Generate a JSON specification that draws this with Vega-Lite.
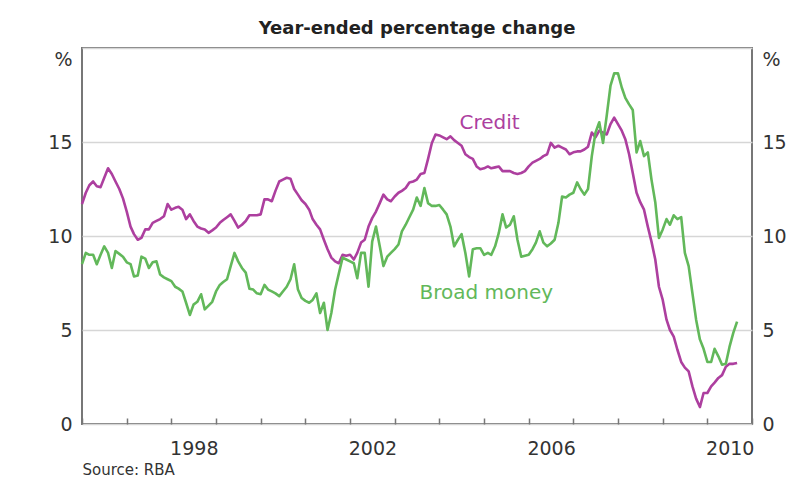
{
  "$schema": "https://vega.github.io/schema/vega-lite/v6.json",
  "width": 670,
  "height": 376,
  "autosize": "none",
  "padding": {"left": 82, "top": 48, "right": 56, "bottom": 70},
  "background": "white",
  "title": {
    "text": "Year-ended percentage change",
    "anchor": "middle",
    "frame": "group",
    "font": "DejaVu Sans",
    "fontSize": 18,
    "fontWeight": "bold",
    "color": "#222222",
    "baseline": "alphabetic",
    "offset": 13,
    "dy": 17
  },
  "config": {
    "view": {"stroke": "#777777", "strokeWidth": 2},
    "font": "DejaVu Sans"
  },
  "datasets": {
    "series": [
      {"d": "1996-01", "Credit": 11.7, "Broad money": 8.5},
      {"d": "1996-02", "Credit": 12.3, "Broad money": 9.1},
      {"d": "1996-03", "Credit": 12.7, "Broad money": 9.0},
      {"d": "1996-04", "Credit": 12.9, "Broad money": 9.0},
      {"d": "1996-05", "Credit": 12.65, "Broad money": 8.5},
      {"d": "1996-06", "Credit": 12.6, "Broad money": 9.0},
      {"d": "1996-07", "Credit": 13.1, "Broad money": 9.45},
      {"d": "1996-08", "Credit": 13.6, "Broad money": 9.1},
      {"d": "1996-09", "Credit": 13.3, "Broad money": 8.3},
      {"d": "1996-10", "Credit": 12.9, "Broad money": 9.2},
      {"d": "1996-11", "Credit": 12.5, "Broad money": 9.05},
      {"d": "1996-12", "Credit": 12.0, "Broad money": 8.9},
      {"d": "1997-01", "Credit": 11.3, "Broad money": 8.6},
      {"d": "1997-02", "Credit": 10.5, "Broad money": 8.5},
      {"d": "1997-03", "Credit": 10.1, "Broad money": 7.85},
      {"d": "1997-04", "Credit": 9.8, "Broad money": 7.9},
      {"d": "1997-05", "Credit": 9.9, "Broad money": 8.9},
      {"d": "1997-06", "Credit": 10.35, "Broad money": 8.8},
      {"d": "1997-07", "Credit": 10.35, "Broad money": 8.3},
      {"d": "1997-08", "Credit": 10.7, "Broad money": 8.6},
      {"d": "1997-09", "Credit": 10.8, "Broad money": 8.65},
      {"d": "1997-10", "Credit": 10.9, "Broad money": 7.95},
      {"d": "1997-11", "Credit": 11.05, "Broad money": 7.8},
      {"d": "1997-12", "Credit": 11.7, "Broad money": 7.7},
      {"d": "1998-01", "Credit": 11.4, "Broad money": 7.6},
      {"d": "1998-02", "Credit": 11.5, "Broad money": 7.3},
      {"d": "1998-03", "Credit": 11.55, "Broad money": 7.2},
      {"d": "1998-04", "Credit": 11.4, "Broad money": 7.05},
      {"d": "1998-05", "Credit": 10.9, "Broad money": 6.45},
      {"d": "1998-06", "Credit": 11.15, "Broad money": 5.8},
      {"d": "1998-07", "Credit": 10.8, "Broad money": 6.35},
      {"d": "1998-08", "Credit": 10.5, "Broad money": 6.5},
      {"d": "1998-09", "Credit": 10.4, "Broad money": 6.9},
      {"d": "1998-10", "Credit": 10.35, "Broad money": 6.1},
      {"d": "1998-11", "Credit": 10.17, "Broad money": 6.3},
      {"d": "1998-12", "Credit": 10.3, "Broad money": 6.5},
      {"d": "1999-01", "Credit": 10.45, "Broad money": 7.05},
      {"d": "1999-02", "Credit": 10.7, "Broad money": 7.4},
      {"d": "1999-03", "Credit": 10.85, "Broad money": 7.55},
      {"d": "1999-04", "Credit": 11.0, "Broad money": 7.7},
      {"d": "1999-05", "Credit": 11.15, "Broad money": 8.4},
      {"d": "1999-06", "Credit": 10.8, "Broad money": 9.1},
      {"d": "1999-07", "Credit": 10.45, "Broad money": 8.65},
      {"d": "1999-08", "Credit": 10.6, "Broad money": 8.3},
      {"d": "1999-09", "Credit": 10.8, "Broad money": 8.05},
      {"d": "1999-10", "Credit": 11.1, "Broad money": 7.2},
      {"d": "1999-11", "Credit": 11.1, "Broad money": 7.15},
      {"d": "1999-12", "Credit": 11.1, "Broad money": 6.95},
      {"d": "2000-01", "Credit": 11.15, "Broad money": 6.9},
      {"d": "2000-02", "Credit": 11.95, "Broad money": 7.4},
      {"d": "2000-03", "Credit": 11.95, "Broad money": 7.15},
      {"d": "2000-04", "Credit": 11.85, "Broad money": 7.05},
      {"d": "2000-05", "Credit": 12.4, "Broad money": 6.95},
      {"d": "2000-06", "Credit": 12.9, "Broad money": 6.8},
      {"d": "2000-07", "Credit": 13.0, "Broad money": 7.05},
      {"d": "2000-08", "Credit": 13.1, "Broad money": 7.3},
      {"d": "2000-09", "Credit": 13.05, "Broad money": 7.7},
      {"d": "2000-10", "Credit": 12.5, "Broad money": 8.5},
      {"d": "2000-11", "Credit": 12.2, "Broad money": 7.15},
      {"d": "2000-12", "Credit": 11.9, "Broad money": 6.7},
      {"d": "2001-01", "Credit": 11.7, "Broad money": 6.55},
      {"d": "2001-02", "Credit": 11.4, "Broad money": 6.45},
      {"d": "2001-03", "Credit": 10.9, "Broad money": 6.6},
      {"d": "2001-04", "Credit": 10.6, "Broad money": 6.95},
      {"d": "2001-05", "Credit": 10.35, "Broad money": 5.9},
      {"d": "2001-06", "Credit": 9.8, "Broad money": 6.45},
      {"d": "2001-07", "Credit": 9.3, "Broad money": 5.0},
      {"d": "2001-08", "Credit": 8.85, "Broad money": 5.9},
      {"d": "2001-09", "Credit": 8.65, "Broad money": 7.15},
      {"d": "2001-10", "Credit": 8.55, "Broad money": 8.0},
      {"d": "2001-11", "Credit": 9.0, "Broad money": 8.85},
      {"d": "2001-12", "Credit": 8.95, "Broad money": 8.75},
      {"d": "2002-01", "Credit": 9.0, "Broad money": 8.65},
      {"d": "2002-02", "Credit": 8.75, "Broad money": 8.55},
      {"d": "2002-03", "Credit": 9.1, "Broad money": 7.75},
      {"d": "2002-04", "Credit": 9.65, "Broad money": 9.1},
      {"d": "2002-05", "Credit": 9.8, "Broad money": 9.1},
      {"d": "2002-06", "Credit": 10.5, "Broad money": 7.3},
      {"d": "2002-07", "Credit": 10.95, "Broad money": 9.7},
      {"d": "2002-08", "Credit": 11.3, "Broad money": 10.5},
      {"d": "2002-09", "Credit": 11.75, "Broad money": 9.45},
      {"d": "2002-10", "Credit": 12.2, "Broad money": 8.4},
      {"d": "2002-11", "Credit": 11.95, "Broad money": 8.9},
      {"d": "2002-12", "Credit": 11.85, "Broad money": 9.1},
      {"d": "2003-01", "Credit": 12.1, "Broad money": 9.3},
      {"d": "2003-02", "Credit": 12.3, "Broad money": 9.55},
      {"d": "2003-03", "Credit": 12.4, "Broad money": 10.25},
      {"d": "2003-04", "Credit": 12.55, "Broad money": 10.6},
      {"d": "2003-05", "Credit": 12.85, "Broad money": 11.0},
      {"d": "2003-06", "Credit": 12.9, "Broad money": 11.4},
      {"d": "2003-07", "Credit": 13.0, "Broad money": 12.05},
      {"d": "2003-08", "Credit": 13.3, "Broad money": 11.6},
      {"d": "2003-09", "Credit": 13.35, "Broad money": 12.55},
      {"d": "2003-10", "Credit": 14.1, "Broad money": 11.75},
      {"d": "2003-11", "Credit": 14.95, "Broad money": 11.6},
      {"d": "2003-12", "Credit": 15.4, "Broad money": 11.6},
      {"d": "2004-01", "Credit": 15.35, "Broad money": 11.65},
      {"d": "2004-02", "Credit": 15.25, "Broad money": 11.4},
      {"d": "2004-03", "Credit": 15.15, "Broad money": 11.15},
      {"d": "2004-04", "Credit": 15.3, "Broad money": 10.5},
      {"d": "2004-05", "Credit": 15.1, "Broad money": 9.45},
      {"d": "2004-06", "Credit": 14.95, "Broad money": 9.8},
      {"d": "2004-07", "Credit": 14.8, "Broad money": 10.1},
      {"d": "2004-08", "Credit": 14.35, "Broad money": 9.1},
      {"d": "2004-09", "Credit": 14.2, "Broad money": 7.85},
      {"d": "2004-10", "Credit": 14.1, "Broad money": 9.3},
      {"d": "2004-11", "Credit": 13.7, "Broad money": 9.35},
      {"d": "2004-12", "Credit": 13.55, "Broad money": 9.35},
      {"d": "2005-01", "Credit": 13.6, "Broad money": 9.0},
      {"d": "2005-02", "Credit": 13.7, "Broad money": 9.1},
      {"d": "2005-03", "Credit": 13.6, "Broad money": 9.0},
      {"d": "2005-04", "Credit": 13.65, "Broad money": 9.45},
      {"d": "2005-05", "Credit": 13.7, "Broad money": 10.15},
      {"d": "2005-06", "Credit": 13.45, "Broad money": 11.15},
      {"d": "2005-07", "Credit": 13.45, "Broad money": 10.45},
      {"d": "2005-08", "Credit": 13.45, "Broad money": 10.6},
      {"d": "2005-09", "Credit": 13.35, "Broad money": 11.05},
      {"d": "2005-10", "Credit": 13.3, "Broad money": 9.8},
      {"d": "2005-11", "Credit": 13.35, "Broad money": 8.9},
      {"d": "2005-12", "Credit": 13.45, "Broad money": 8.95},
      {"d": "2006-01", "Credit": 13.7, "Broad money": 9.0},
      {"d": "2006-02", "Credit": 13.9, "Broad money": 9.3},
      {"d": "2006-03", "Credit": 14.0, "Broad money": 9.65},
      {"d": "2006-04", "Credit": 14.1, "Broad money": 10.25},
      {"d": "2006-05", "Credit": 14.25, "Broad money": 9.65},
      {"d": "2006-06", "Credit": 14.35, "Broad money": 9.45},
      {"d": "2006-07", "Credit": 14.95, "Broad money": 9.6},
      {"d": "2006-08", "Credit": 14.7, "Broad money": 9.8},
      {"d": "2006-09", "Credit": 14.8, "Broad money": 10.7},
      {"d": "2006-10", "Credit": 14.7, "Broad money": 12.1},
      {"d": "2006-11", "Credit": 14.6, "Broad money": 12.05},
      {"d": "2006-12", "Credit": 14.35, "Broad money": 12.2},
      {"d": "2007-01", "Credit": 14.45, "Broad money": 12.3},
      {"d": "2007-02", "Credit": 14.5, "Broad money": 12.85},
      {"d": "2007-03", "Credit": 14.5, "Broad money": 12.5},
      {"d": "2007-04", "Credit": 14.6, "Broad money": 12.2},
      {"d": "2007-05", "Credit": 14.75, "Broad money": 12.5},
      {"d": "2007-06", "Credit": 15.5, "Broad money": 14.25},
      {"d": "2007-07", "Credit": 15.25, "Broad money": 15.5},
      {"d": "2007-08", "Credit": 15.6, "Broad money": 16.05},
      {"d": "2007-09", "Credit": 15.5, "Broad money": 14.95},
      {"d": "2007-10", "Credit": 15.4, "Broad money": 16.4},
      {"d": "2007-11", "Credit": 15.95, "Broad money": 18.0},
      {"d": "2007-12", "Credit": 16.3, "Broad money": 18.65},
      {"d": "2008-01", "Credit": 15.95, "Broad money": 18.65},
      {"d": "2008-02", "Credit": 15.6, "Broad money": 17.9},
      {"d": "2008-03", "Credit": 15.15, "Broad money": 17.35},
      {"d": "2008-04", "Credit": 14.35, "Broad money": 17.0},
      {"d": "2008-05", "Credit": 13.35, "Broad money": 16.7},
      {"d": "2008-06", "Credit": 12.3, "Broad money": 14.45},
      {"d": "2008-07", "Credit": 11.8, "Broad money": 15.05},
      {"d": "2008-08", "Credit": 11.4, "Broad money": 14.25},
      {"d": "2008-09", "Credit": 10.5, "Broad money": 14.45},
      {"d": "2008-10", "Credit": 9.7, "Broad money": 13.0},
      {"d": "2008-11", "Credit": 8.75, "Broad money": 11.8},
      {"d": "2008-12", "Credit": 7.3, "Broad money": 9.9},
      {"d": "2009-01", "Credit": 6.6, "Broad money": 10.35},
      {"d": "2009-02", "Credit": 5.55, "Broad money": 10.9},
      {"d": "2009-03", "Credit": 5.0, "Broad money": 10.6},
      {"d": "2009-04", "Credit": 4.65, "Broad money": 11.1},
      {"d": "2009-05", "Credit": 3.95, "Broad money": 10.9},
      {"d": "2009-06", "Credit": 3.3, "Broad money": 11.0},
      {"d": "2009-07", "Credit": 3.0, "Broad money": 9.1},
      {"d": "2009-08", "Credit": 2.8, "Broad money": 8.4},
      {"d": "2009-09", "Credit": 2.0, "Broad money": 6.95},
      {"d": "2009-10", "Credit": 1.35, "Broad money": 5.55},
      {"d": "2009-11", "Credit": 0.9, "Broad money": 4.5},
      {"d": "2009-12", "Credit": 1.65, "Broad money": 4.0},
      {"d": "2010-01", "Credit": 1.65, "Broad money": 3.3},
      {"d": "2010-02", "Credit": 2.0, "Broad money": 3.3},
      {"d": "2010-03", "Credit": 2.2, "Broad money": 4.0},
      {"d": "2010-04", "Credit": 2.45, "Broad money": 3.6},
      {"d": "2010-05", "Credit": 2.6, "Broad money": 3.15},
      {"d": "2010-06", "Credit": 3.05, "Broad money": 3.2},
      {"d": "2010-07", "Credit": 3.2, "Broad money": 4.1},
      {"d": "2010-08", "Credit": 3.2, "Broad money": 4.85},
      {"d": "2010-09", "Credit": 3.25, "Broad money": 5.45}
    ],
    "labels": [
      {"d": "2005-02-15", "value": 16.0, "series": "Credit"},
      {"d": "2005-01-19", "value": 6.95, "series": "Broad money"}
    ]
  },
  "encoding": {
    "x": {
      "field": "d",
      "type": "temporal",
      "scale": {
        "type": "utc",
        "domain": [
          {"year": 1996, "month": 1, "date": 1, "utc": true},
          {"year": 2011, "month": 1, "date": 1, "utc": true}
        ]
      },
      "axis": {
        "title": "Source: RBA",
        "titleFont": "DejaVu Sans",
        "titleFontSize": 15,
        "titleFontWeight": "normal",
        "titleColor": "#333333",
        "titleX": 0,
        "titleY": 50,
        "titleAlign": "left",
        "titleAnchor": "start",
        "titleBaseline": "alphabetic",
        "tickCount": {"interval": "year", "step": 1},
        "tickSize": -6,
        "tickColor": "#777777",
        "tickWidth": 1.5,
        "domain": false,
        "grid": false,
        "labelExpr": "(utcyear(datum.value) % 4 == 2 && utcyear(datum.value) < 2011) ? utcFormat(datum.value, '%Y') : ''",
        "labelOffset": 22.4,
        "labelFlush": false,
        "labelOverlap": false,
        "labelBound": false,
        "labelPadding": 21.5,
        "labelBaseline": "top",
        "labelFont": "DejaVu Sans",
        "labelFontSize": 19,
        "labelColor": "#333333"
      }
    }
  },
  "layer": [
    {
      "data": {"name": "series"},
      "transform": [{"fold": ["Credit", "Broad money"], "as": ["series", "value"]}],
      "mark": {"type": "line", "strokeWidth": 2.6, "strokeJoin": "round"},
      "encoding": {
        "y": {
          "field": "value",
          "type": "quantitative",
          "scale": {"domain": [0, 20], "nice": false},
          "axis": {
            "orient": "left",
            "values": [0, 5, 10, 15, 20],
            "title": null,
            "ticks": false,
            "domain": false,
            "grid": true,
            "gridColor": "#d6d6d6",
            "gridWidth": 1.5,
            "labelPadding": 10,
            "labelFont": "DejaVu Sans",
            "labelFontSize": 19,
            "labelColor": "#333333",
            "labelExpr": "datum.value == 20 ? '%' : datum.label",
            "labelOffset": {"condition": {"test": "datum.value == 20", "value": 11}, "value": 0}
          }
        },
        "color": {
          "field": "series",
          "type": "nominal",
          "scale": {"domain": ["Credit", "Broad money"], "range": ["#ad3f9f", "#62b85a"]},
          "legend": null
        },
        "detail": {"field": "series"}
      }
    },
    {
      "data": {"name": "labels"},
      "mark": {"type": "text", "font": "DejaVu Sans", "fontSize": 20, "align": "center", "baseline": "middle"},
      "encoding": {
        "y": {
          "field": "value",
          "type": "quantitative",
          "scale": {"domain": [0, 20], "nice": false},
          "axis": {
            "orient": "right",
            "values": [0, 5, 10, 15, 20],
            "title": null,
            "ticks": false,
            "domain": false,
            "grid": false,
            "labelPadding": 10,
            "labelFont": "DejaVu Sans",
            "labelFontSize": 19,
            "labelColor": "#333333",
            "labelExpr": "datum.value == 20 ? '%' : datum.label",
            "labelOffset": {"condition": {"test": "datum.value == 20", "value": 11}, "value": 0}
          }
        },
        "text": {"field": "series"},
        "color": {"field": "series", "type": "nominal", "legend": null}
      }
    }
  ],
  "resolve": {"axis": {"y": "independent"}}
}
